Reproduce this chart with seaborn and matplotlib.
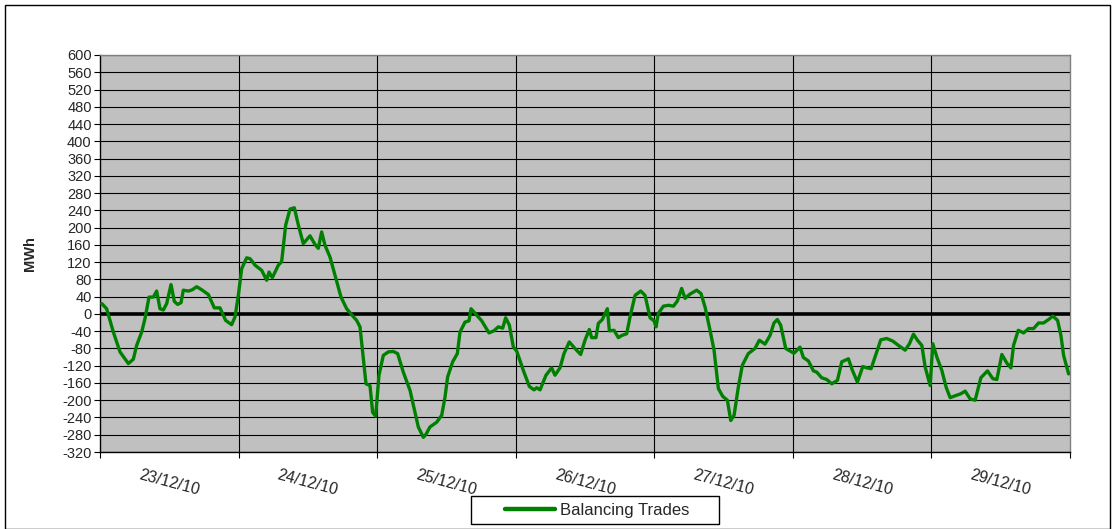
import matplotlib
matplotlib.use("Agg")
import matplotlib.pyplot as plt
import matplotlib.patches as mpatches
import numpy as np
import pandas as pd
import seaborn as sns

# hours from 00:00 on 23/12/10, balancing trades in MWh
hours = [
    0.3, 1.15, 2.31, 3.46, 4.91, 5.77, 6.35, 7.22, 7.79, 8.49, 9.24, 9.81,
    10.39, 10.97, 11.55, 12.30, 12.87, 13.45, 14.03, 14.43, 15.30, 15.99,
    16.74, 17.61, 18.76, 19.80, 20.78, 21.76, 22.80, 23.38, 23.96, 24.54,
    25.40, 25.98, 26.85, 28.0, 28.87, 29.27, 29.85, 30.89, 31.46, 32.16,
    32.91, 33.66, 34.35, 35.21, 36.37, 37.24, 37.81, 38.39, 38.97, 39.83,
    40.70, 41.74, 42.72, 43.59, 44.45, 45.03, 45.61, 46.07, 46.76, 47.22,
    47.74, 48.32, 49.07, 49.94, 50.80, 51.55, 52.53, 53.69, 55.13, 56.0,
    56.46, 57.15, 58.31, 59.18, 59.75, 60.21, 61.08, 61.89, 62.35, 63.22,
    63.91, 64.26, 65.24, 66.11, 67.37, 68.24, 68.99, 69.74, 70.26, 70.90,
    71.59, 72.17, 73.32, 74.36, 75.17, 75.63, 76.21, 77.25, 78.22, 78.80,
    79.67, 80.36, 81.28, 82.26, 83.25, 84.0, 84.75, 85.15, 85.90, 86.31,
    87.0, 87.87, 88.22, 89.03, 89.78, 90.36, 91.22, 91.80, 92.67, 93.65,
    94.40, 95.27, 95.96, 96.31, 96.70, 97.58, 98.45, 99.32, 100.0, 100.74,
    101.33, 102.19, 103.35, 104.1, 104.79, 105.66, 106.35, 107.10, 107.85,
    108.66, 109.24, 109.82, 110.55, 111.25, 112.28, 113.44, 114.19, 115.18,
    116.04, 116.73, 117.31, 117.89, 118.76, 119.51, 120.20, 121.24, 121.82,
    122.69, 123.56, 124.14, 125.0, 125.87, 126.74, 127.72, 128.47, 129.62,
    130.32, 131.18, 132.11, 132.80, 133.55, 134.42, 135.23, 136.27, 137.31,
    138.29, 139.45, 140.20, 140.89, 141.58, 142.34, 142.91, 143.78, 144.24,
    144.94, 145.80, 146.55, 147.24, 148.28, 149.09, 149.84, 150.71, 151.57,
    152.56, 153.71, 154.63, 155.33, 156.20, 157.06, 157.76, 158.22, 159.04,
    159.96, 160.83, 161.69, 162.56, 163.42, 164.29, 165.04, 165.85, 166.43,
    166.89, 167.76,
]
mwh = [
    24, 12, -42, -88, -115, -105, -73, -42, -11, 39, 39, 53,
    12, 9, 24, 68, 29, 22, 26, 55, 53, 56,
    63, 56, 45, 14, 14, -15, -25, -7, 43, 105,
    130, 128, 113, 101, 78, 97, 84, 113, 121, 206,
    243, 246, 206, 163, 181, 161, 152, 190, 159, 132,
    90, 39, 12, -2, -15, -30, -104, -162, -166, -228,
    -237, -142, -96, -88, -87, -92, -135, -177, -262, -286,
    -279, -262, -251, -235, -193, -146, -111, -92, -42, -19,
    -16, 12, -3, -16, -44, -39, -30, -33, -9, -26,
    -77, -86, -131, -168, -176, -171, -176, -142, -125, -142,
    -125, -92, -65, -80, -94, -61, -36, -55, -55, -22,
    -13, 12, -39, -38, -55, -50, -46, -7, 43, 53,
    43, -9, -16, -30, 1, 18, 20, 18, 30, 59,
    36, 46, 55, 47, 16, -38, -84, -173, -191,
    -200, -247, -235, -170, -119, -92, -80, -61, -70,
    -50, -21, -13, -26, -80, -86, -91, -77, -101,
    -109, -132, -135, -148, -152, -162, -154, -111, -104,
    -131, -158, -122, -125, -127, -92, -60, -57, -63,
    -73, -84, -69, -47, -61, -73, -123, -166, -69,
    -100, -131, -170, -194, -189, -185, -179, -197, -200,
    -148, -132, -150, -152, -94, -114, -125, -73, -38,
    -44, -34, -34, -21, -21, -13, -5, -15, -50,
    -96, -139,
]
day_labels = ["23/12/10", "24/12/10", "25/12/10", "26/12/10",
              "27/12/10", "28/12/10", "29/12/10"]
y_ticks = list(range(-320, 601, 40))

df = pd.DataFrame({"hours": hours, "MWh": mwh})

sns.set_style("white")
plt.rcParams["font.family"] = ["Liberation Sans", "DejaVu Sans"]

fig = plt.figure(figsize=(11.15, 5.29), dpi=100)
ax = fig.add_axes([100 / 1115, 1 - 452 / 529, 970 / 1115, 397 / 529])
ax.set_facecolor("#c0c0c0")

sns.lineplot(data=df, x="hours", y="MWh", ax=ax, color="#008000",
             linewidth=2.4, label="Balancing Trades", zorder=4)

ax.set_xlim(0, 168)
ax.set_ylim(-320, 600)
ax.set_yticks(y_ticks)
ax.set_yticklabels([str(v) for v in y_ticks], fontsize=10.5)

for v in y_ticks:
    ax.axhline(v, color="black", linewidth=0.8, zorder=1)
for d in range(1, 7):
    ax.axvline(d * 24, color="black", linewidth=0.8, zorder=1)
ax.axhline(0, color="black", linewidth=2.6, zorder=3)

ax.set_xticks([d * 24 for d in range(8)])
ax.set_xticklabels([])
ax.set_xticks([d * 24 + 12 for d in range(7)], minor=True)
ax.set_xticklabels(day_labels, minor=True, rotation=-15, ha="center",
                   fontsize=11.5)
ax.tick_params(axis="x", which="major", direction="out", length=4,
               width=0.8, color="black", bottom=True)
ax.tick_params(axis="x", which="minor", length=0, pad=11)
ax.tick_params(axis="y", direction="out", length=4, width=0.8,
               color="black", left=True, pad=2)

for s in ax.spines.values():
    s.set_color("#808080")
    s.set_linewidth(1)
ax.spines["left"].set_color("black")
ax.spines["bottom"].set_color("black")

ax.set_xlabel("")
ax.set_ylabel("MWh", fontsize=10.5, fontweight="bold", labelpad=18)

ax.get_legend().remove()
handles, labels = ax.get_legend_handles_labels()
leg = fig.legend(handles, labels, loc="center left",
                 bbox_to_anchor=(505 / 1115, 1 - 510 / 529),
                 fontsize=12, frameon=False, handlelength=3.0,
                 borderpad=0, borderaxespad=0, handletextpad=0.3)
for l in leg.get_lines():
    l.set_linewidth(3.2)

# legend frame (wider than matplotlib's padding allows)
fig.patches.append(mpatches.Rectangle((471 / 1115, 1 - 524 / 529), 248 / 1115, 28 / 529,
                                      transform=fig.transFigure, fill=False,
                                      edgecolor="black", linewidth=1))
# outer chart border
fig.patches.append(mpatches.Rectangle((5 / 1115, 0.0), 1105 / 1115, 1 - 5 / 529,
                                      transform=fig.transFigure, fill=False,
                                      edgecolor="black", linewidth=1))

fig.savefig("out.png", dpi=100)
